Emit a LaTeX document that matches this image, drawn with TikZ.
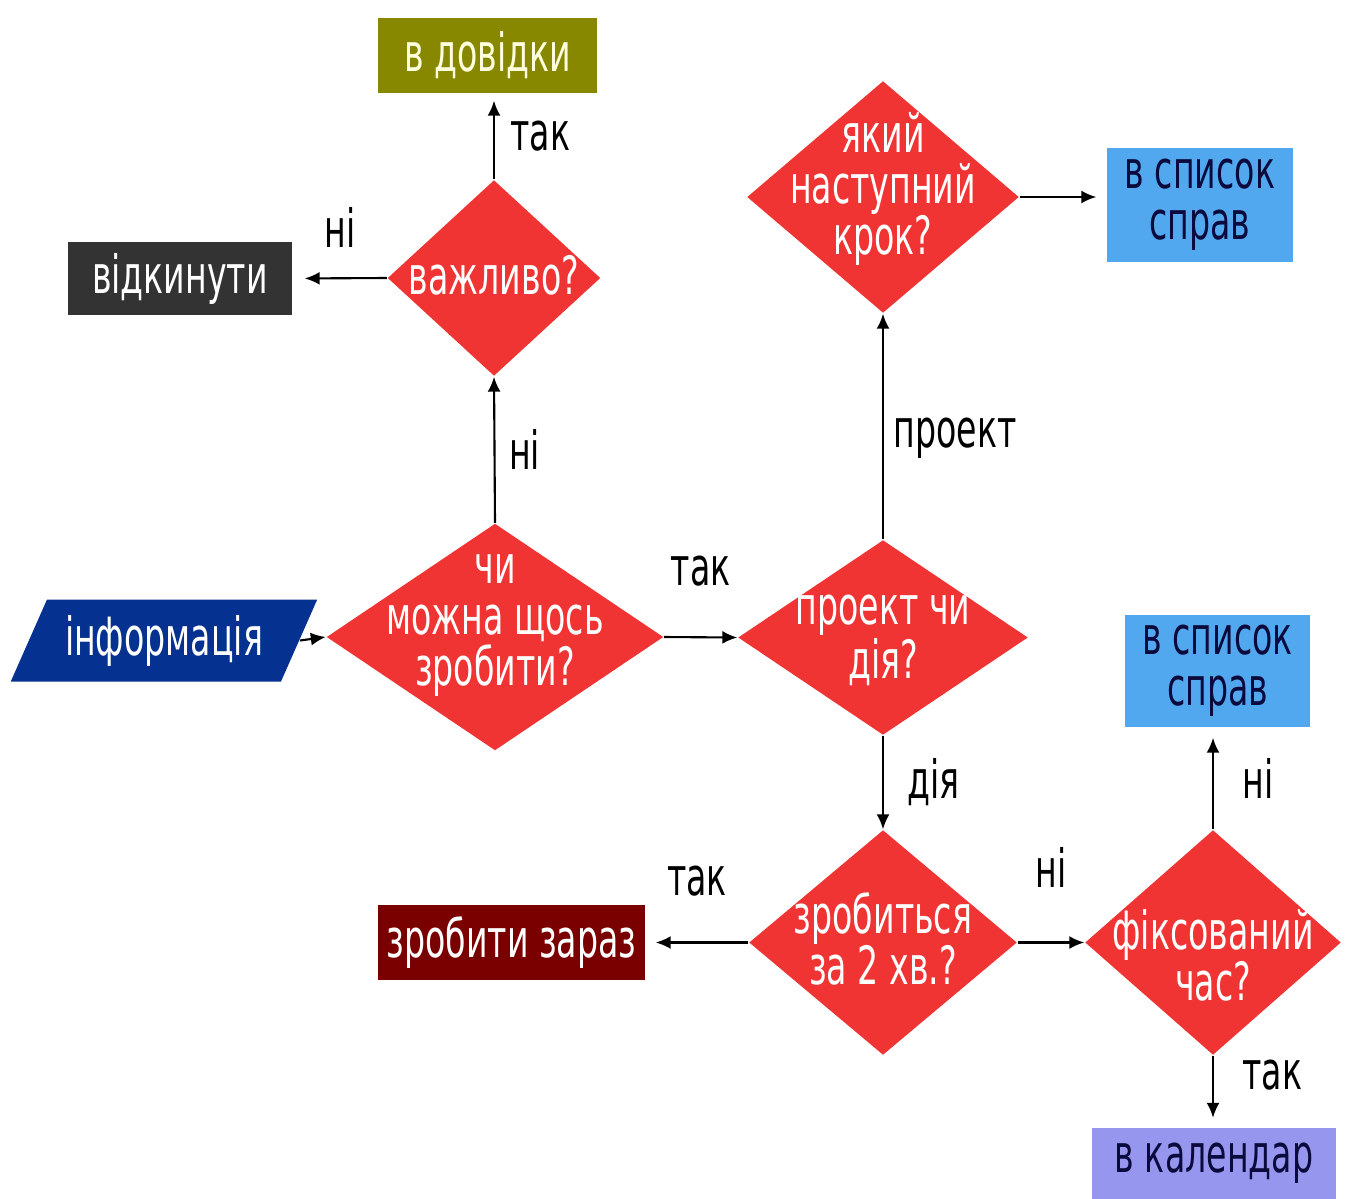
\documentclass[tikz,border=0pt]{standalone}
\usepackage{fontspec}
\setmainfont{DejaVu Sans}[FakeStretch=0.63]
\usetikzlibrary{arrows.meta,positioning,shapes.geometric}

\begin{document}
\begin{tikzpicture}[
    x=1cm,
    y=1cm,
    font=\fontsize{15}{14.5}\selectfont,
    >={Latex[length=1.5mm,width=1.3mm]},
    decision/.style 2 args={diamond, fill=decred, inner sep=0pt,
        minimum width=#1, minimum height=#2},
    dtext/.style={text=white, align=center, inner sep=0pt},
    box/.style 2 args={rectangle, fill=#1, text=#2, inner sep=0pt},
    flow/.style={draw=black, line width=0.6pt, ->},
    lbl/.style={text=black, inner sep=1pt}
]

\definecolor{decred}{RGB}{240,52,52}
\definecolor{oliveboxfill}{RGB}{136,136,0}
\definecolor{olivetext}{RGB}{255,255,222}
\definecolor{trashfill}{RGB}{51,51,51}
\definecolor{infoblue}{RGB}{5,50,145}
\definecolor{todoblue}{RGB}{82,168,238}
\definecolor{navytext}{RGB}{10,10,60}
\definecolor{nowred}{RGB}{122,0,0}
\definecolor{calviolet}{RGB}{150,150,238}

\useasboundingbox (0,0) rectangle (13.49,-11.98);

% Input and first question.
\node[trapezium, trapezium left angle=59, trapezium right angle=121,
      trapezium stretches=true, fill=infoblue, text=white, inner sep=0pt,
      minimum width=3.08cm, minimum height=0.82cm] (info) at (1.64,-6.405) {інформація};
\node[decision={3.37cm}{2.27cm}, label={[dtext, yshift=1.1mm]center:{чи\\можна щось\\зробити?}}]
    (can) at (4.95,-6.37) {};

% Left branch: reference or trash.
\node[decision={2.13cm}{1.96cm}, label={[dtext, yshift=0.3mm]center:важливо?}]
    (imp) at (4.94,-2.78) {};
\node[box={oliveboxfill}{olivetext}, minimum width=2.19cm, minimum height=0.75cm]
    (ref) at (4.875,-0.555) {в довідки};
\node[box={trashfill}{white}, minimum width=2.24cm, minimum height=0.73cm]
    (trash) at (1.80,-2.785) {відкинути};

% Project or action.
\node[decision={2.90cm}{1.95cm}, label={[dtext, yshift=-0.3mm]center:{проект чи\\дія?}}]
    (proj) at (8.83,-6.375) {};
\node[decision={2.72cm}{2.32cm}, label={[dtext, yshift=0.8mm]center:{який\\наступний\\крок?}}]
    (next) at (8.83,-1.97) {};
\node[box={todoblue}{navytext}, align=center, minimum width=1.86cm, minimum height=1.14cm]
    (todoa) at (12.00,-2.05) {в список\\справ};

% Action branch.
\node[decision={2.68cm}{2.25cm}, label={[dtext, yshift=0.4mm]center:{зробиться\\за 2 хв.?}}]
    (quick) at (8.83,-9.425) {};
\node[box={nowred}{white}, minimum width=2.67cm, minimum height=0.75cm]
    (now) at (5.115,-9.425) {зробити зараз};
\node[decision={2.56cm}{2.25cm}, label={[dtext, yshift=-1.3mm]center:{фіксований\\час?}}]
    (fixed) at (12.13,-9.425) {};
\node[box={todoblue}{navytext}, align=center, minimum width=1.85cm, minimum height=1.12cm]
    (todob) at (12.175,-6.71) {в список\\справ};
\node[box={calviolet}{navytext}, minimum width=2.44cm, minimum height=0.71cm]
    (cal) at (12.14,-11.63) {в календар};

% Connectors.
\draw[flow] (info.east) -- (can.west);
\draw[flow] (can.north) -- (imp.south) node[lbl, midway, right=1mm] {ні};
\draw[flow, shorten >=0.7mm] (imp.north) -- (imp.north |- ref.south)
    node[lbl, midway, right=1.2mm] {так};
\draw[flow, shorten >=1.2mm] (imp.west) -- (trash.east)
    node[lbl, midway, above=2.6mm] {ні};
\draw[flow] (can.east) -- (proj.west) node[lbl, midway, above=4.6mm] {так};
\draw[flow] (proj.north) -- (next.south) node[lbl, pos=0.45, right=0.6mm] {проект};
\draw[flow, shorten >=1mm] (next.east) -- (todoa.west |- next.east);
\draw[flow] (proj.south) -- (quick.north) node[lbl, midway, right=2mm] {дія};
\draw[flow, shorten >=1mm] (quick.west) -- (now.east)
    node[lbl, midway, above=4.2mm] {так};
\draw[flow] (quick.east) -- (fixed.west) node[lbl, midway, above=5mm] {ні};
\draw[flow, shorten >=1mm] (fixed.north) -- (fixed.north |- todob.south)
    node[lbl, midway, right=2.5mm] {ні};
\draw[flow, shorten >=0.9mm] (fixed.south) -- (fixed.south |- cal.north)
    node[lbl, pos=0.27, right=2.5mm] {так};

\end{tikzpicture}
\end{document}
